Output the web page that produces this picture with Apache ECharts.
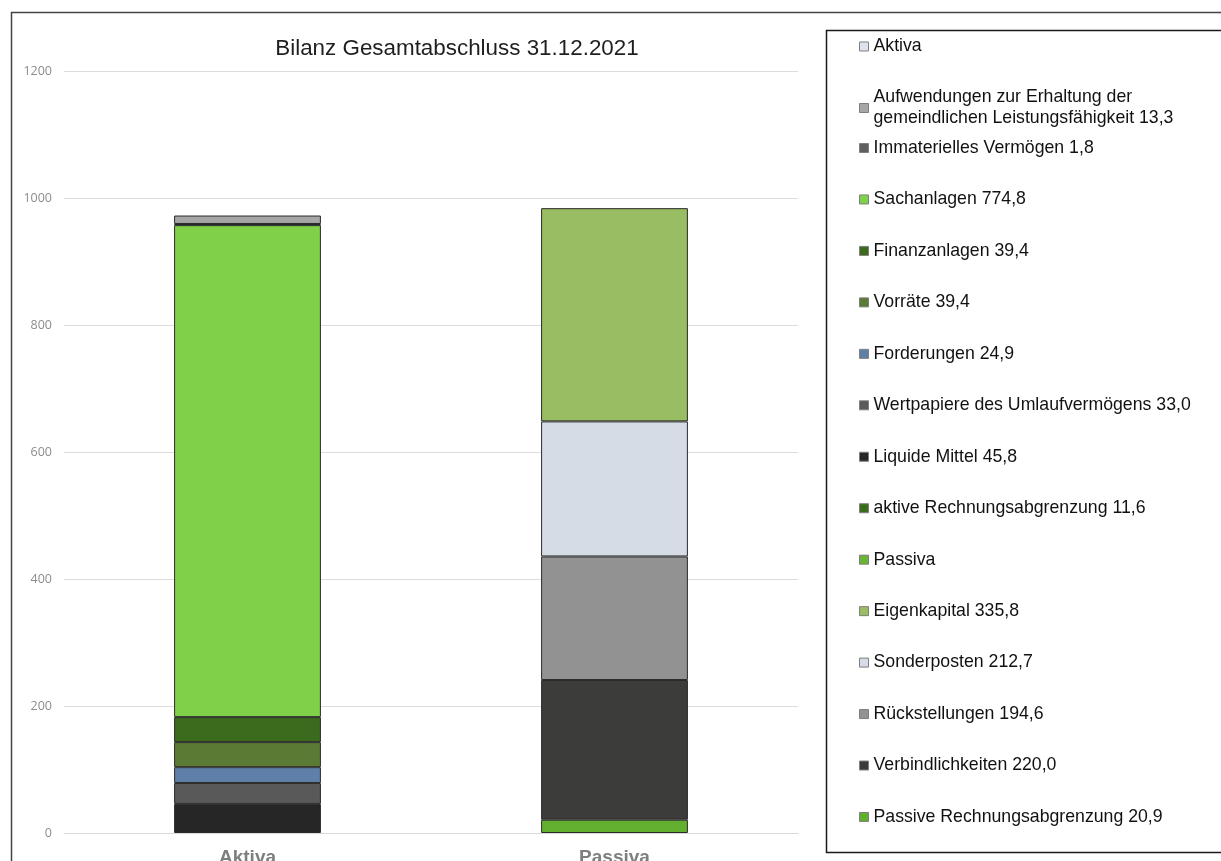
<!DOCTYPE html>
<html>
<head>
<meta charset="utf-8">
<title>Bilanz Gesamtabschluss 31.12.2021</title>
<script src="https://cdn.jsdelivr.net/npm/echarts@6/dist/echarts.min.js"></script>
<style>
  html, body { margin: 0; padding: 0; background: #ffffff; }
  #chart { width: 1221px; height: 861px; }
</style>
</head>
<body>
<div id="chart"></div>
<script>
const categories = ["Aktiva", "Passiva"];
const yTicks = [0, 200, 400, 600, 800, 1000, 1200];

// Aktiva, from bottom to top of the stack
const aktivaNames = [
  "Liquide Mittel",
  "Wertpapiere des Umlaufvermögens",
  "Forderungen",
  "Vorräte",
  "Finanzanlagen",
  "Sachanlagen",
  "Immaterielles Vermögen",
  "Aufwendungen zur Erhaltung der\ngemeindlichen Leistungsfähigkeit",
];
const aktivaValues = [45.8, 33.0, 24.9, 39.4, 39.4, 774.8, 1.8, 13.3];
const aktivaColors = ["#262626", "#595959", "#5f80a8", "#5b7b35", "#3d6b1e", "#80d04a", "#5f5f5f", "#a6a6a6"];

// listed in the legend only, no segment in the bar
const aktivRapName = "aktive Rechnungsabgrenzung";
const aktivRapValue = 11.6;

// Passiva, from bottom to top of the stack
const passivaNames = ["Passive Rechnungsabgrenzung", "Verbindlichkeiten", "Rückstellungen", "Sonderposten", "Eigenkapital"];
const passivaValues = [20.9, 220.0, 194.6, 212.7, 335.8];
const passivaColors = ["#63b030", "#3c3c3a", "#929292", "#d5dce6", "#98bd62"];

const fmt = (v) => v.toFixed(1).replace(".", ",");
const label = (name, v) => `${name} ${fmt(v)}`;

const series = [];
const borderStyle = { borderColor: "#2a2a2a", borderWidth: 1 };

passivaNames.forEach((name, i) => {
  series.push({
    name: label(name, passivaValues[i]),
    type: "bar",
    stack: "total",
    barWidth: "40%",
    data: ["-", passivaValues[i]],
    itemStyle: Object.assign({ color: passivaColors[i] }, borderStyle),
  });
});
series.push({ name: "Passiva", type: "bar", stack: "total", data: [], itemStyle: { color: "#6ab431" } });
series.push({
  name: label(aktivRapName, aktivRapValue),
  type: "bar",
  stack: "total",
  data: ["-", "-"],
  itemStyle: { color: "#3d6b1e" },
});
aktivaNames.forEach((name, i) => {
  series.push({
    name: label(name, aktivaValues[i]),
    type: "bar",
    stack: "total",
    barWidth: "40%",
    data: [aktivaValues[i], "-"],
    itemStyle: Object.assign({ color: aktivaColors[i] }, borderStyle),
  });
});
series.push({ name: "Aktiva", type: "bar", stack: "total", data: [], itemStyle: { color: "#dce3ec" } });

// legend lists the stack top-down, Aktiva block first
const legendOrder = ["Aktiva"]
  .concat(aktivaNames.map((n, i) => label(n, aktivaValues[i])).reverse())
  .concat([label(aktivRapName, aktivRapValue), "Passiva"])
  .concat(passivaNames.map((n, i) => label(n, passivaValues[i])).reverse());

const legendText = { color: "#111111", fontSize: 17.7, lineHeight: 21, fontFamily: "Liberation Sans, Arial, sans-serif" };
const legendBase = {
  orient: "vertical",
  left: 859,
  padding: 0,
  icon: "rect",
  itemWidth: 9,
  itemHeight: 9,
  selectedMode: false,
  itemStyle: { borderColor: "#7f7f7f", borderWidth: 1 },
  textStyle: legendText,
};

const chart = echarts.init(document.getElementById("chart"));
chart.setOption({
  animation: false,
  title: {
    text: "Bilanz Gesamtabschluss 31.12.2021",
    left: 452,
    top: 33,
    textAlign: "center",
    textStyle: { color: "#1f1f1f", fontSize: 22.4, fontWeight: "normal", fontFamily: "Liberation Sans, Arial, sans-serif" },
  },
  graphic: [
    {
      type: "rect",
      z: -10,
      shape: { x: 11.5, y: 12.5, width: 1300, height: 900 },
      style: { fill: "none", stroke: "#444444", lineWidth: 1.5 },
    },
    {
      type: "rect",
      z: -10,
      shape: { x: 826.5, y: 30.5, width: 500, height: 822 },
      style: { fill: "none", stroke: "#1a1a1a", lineWidth: 1.5 },
    },
  ],
  legend: [
    Object.assign({}, legendBase, { top: 36, itemGap: 30, data: legendOrder.slice(0, 2) }),
    Object.assign({}, legendBase, { top: 137.5, itemGap: 30.46, data: legendOrder.slice(2) }),
  ],
  grid: { left: 64, right: 423, top: 71, bottom: 28, containLabel: false, outerBoundsMode: "none" },
  xAxis: {
    type: "category",
    data: categories,
    axisLine: { lineStyle: { color: "#d9d9d9" } },
    axisTick: { show: false },
    axisLabel: {
      color: "#7f7f7f",
      fontSize: 19,
      fontWeight: "bold",
      margin: 15,
      fontFamily: "Liberation Sans, Arial, sans-serif",
    },
  },
  yAxis: {
    type: "value",
    min: yTicks[0],
    max: yTicks[yTicks.length - 1],
    interval: yTicks[1] - yTicks[0],
    axisLine: { show: false },
    axisTick: { show: false },
    axisLabel: {
      color: "#8c8c8c",
      fontSize: 12.5,
      margin: 12,
      fontFamily: "Open Sans, sans-serif",
      formatter: (value) => String(value),
    },
    splitLine: { lineStyle: { color: "#dcdcdc", width: 1 } },
  },
  series: series,
});
</script>
</body>
</html>
